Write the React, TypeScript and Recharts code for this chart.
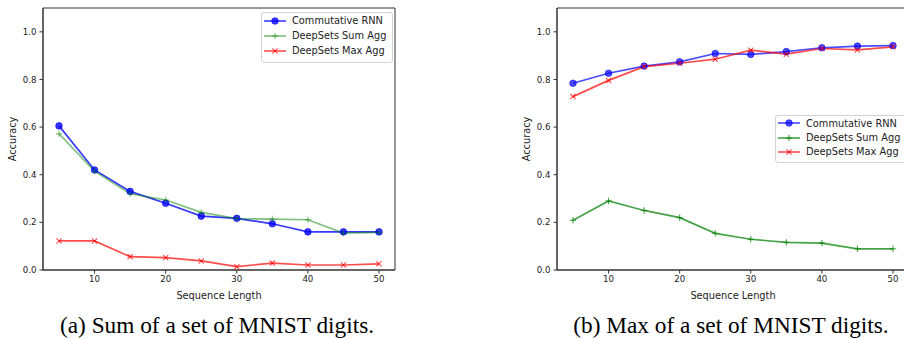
import React from 'react';
import { LineChart, Line, XAxis, YAxis, ReferenceArea, Legend } from 'recharts';

const seqLengths = [5, 10, 15, 20, 25, 30, 35, 40, 45, 50];
const sumCommRnn = [0.605, 0.42, 0.33, 0.28, 0.226, 0.217, 0.194, 0.16, 0.16, 0.16];
const sumDeepSetsSum = [0.572, 0.415, 0.32, 0.294, 0.242, 0.216, 0.214, 0.211, 0.155, 0.158];
const sumDeepSetsMax = [0.122, 0.122, 0.056, 0.052, 0.038, 0.014, 0.029, 0.021, 0.021, 0.026];
const maxCommRnn = [0.784, 0.826, 0.856, 0.874, 0.909, 0.905, 0.917, 0.933, 0.94, 0.942];
const maxDeepSetsSum = [0.209, 0.29, 0.25, 0.22, 0.154, 0.129, 0.116, 0.113, 0.089, 0.089];
const maxDeepSetsMax = [0.728, 0.796, 0.854, 0.868, 0.885, 0.923, 0.906, 0.93, 0.924, 0.937];
const yTicks = [0, 0.2, 0.4, 0.6, 0.8, 1.0];
const xTicks = [10, 20, 30, 40, 50];
const seriesNames = ['Commutative RNN', 'DeepSets Sum Agg', 'DeepSets Max Agg'];
const captions = ['(a) Sum of a set of MNIST digits.', '(b) Max of a set of MNIST digits.'];
const xLabel = 'Sequence Length';
const yLabel = 'Accuracy';

const sumData = seqLengths.map((x, i) => ({ x, rnn: sumCommRnn[i], dsSum: sumDeepSetsSum[i], dsMax: sumDeepSetsMax[i] }));
const maxData = seqLengths.map((x, i) => ({ x, rnn: maxCommRnn[i], dsSum: maxDeepSetsSum[i], dsMax: maxDeepSetsMax[i] }));

const FONT = 'DejaVu Sans, sans-serif';
const AXIS = '#333';

type Kind = 'o' | '+' | 'x';

function Marker({ kind, cx, cy, color, opacity }: { kind: Kind; cx: number; cy: number; color: string; opacity: number }) {
  if (cx == null || cy == null || isNaN(cx) || isNaN(cy)) return null;
  if (kind === 'o') {
    return <circle cx={cx} cy={cy} r={3.3} fill={color} fillOpacity={opacity} stroke={color} strokeOpacity={opacity} strokeWidth={0.8} />;
  }
  if (kind === '+') {
    return (
      <g stroke={color} strokeOpacity={opacity} strokeWidth={1.1}>
        <line x1={cx - 3.2} y1={cy} x2={cx + 3.2} y2={cy} />
        <line x1={cx} y1={cy - 3.2} x2={cx} y2={cy + 3.2} />
      </g>
    );
  }
  return (
    <g stroke={color} strokeOpacity={opacity} strokeWidth={1.1}>
      <line x1={cx - 2.6} y1={cy - 2.6} x2={cx + 2.6} y2={cy + 2.6} />
      <line x1={cx - 2.6} y1={cy + 2.6} x2={cx + 2.6} y2={cy - 2.6} />
    </g>
  );
}

type SeriesDef = { key: string; name: string; color: string; opacity: number; kind: Kind };

function LegendBox({ series, rowH }: { series: SeriesDef[]; rowH: number }) {
  return (
    <div
      style={{
        border: '1px solid #d3d3d3',
        borderRadius: 3,
        background: 'rgba(255,255,255,0.85)',
        padding: '0px 6px 3px 2px',
        fontFamily: FONT,
        fontSize: 9.8,
        color: '#222',
        whiteSpace: 'nowrap',
      }}
    >
      {series.map((s) => (
        <div key={s.key} style={{ display: 'flex', alignItems: 'center', height: rowH }}>
          <svg width={22} height={10} style={{ display: 'block' }}>
            <line x1={0} y1={5} x2={22} y2={5} stroke={s.color} strokeOpacity={s.opacity} strokeWidth={1.6} />
            <Marker kind={s.kind} cx={11} cy={5} color={s.color} opacity={s.opacity} />
          </svg>
          <span style={{ marginLeft: 6 }}>{s.name}</span>
        </div>
      ))}
    </div>
  );
}

function Panel({ data, series, legendLeft, legendTop, rowH }: { data: any[]; series: SeriesDef[]; legendLeft: number; legendTop: number; rowH: number }) {
  return (
    <LineChart width={398} height={310} data={data} margin={{ top: 8, right: 3, left: 0, bottom: 10 }}>
      <XAxis
        dataKey="x"
        type="number"
        domain={[2.75, 52.25]}
        ticks={xTicks}
        allowDataOverflow
        stroke={AXIS}
        tickSize={3.5}
        tickMargin={2}
        height={30}
        tick={{ fontSize: 8.6, fill: '#222', fontFamily: FONT }}
        label={{
          content: (p: any) => {
            const vb = p.viewBox;
            return (
              <text x={vb.x + vb.width / 2} y={vb.y + 29} textAnchor="middle" fontSize={9.8} fontFamily={FONT} fill="#222">
                {xLabel}
              </text>
            );
          },
        }}
      />
      <YAxis
        type="number"
        domain={[0, 1.1]}
        ticks={yTicks}
        allowDataOverflow
        width={43}
        stroke={AXIS}
        tickSize={3.5}
        tickMargin={3}
        tickFormatter={(v: number) => v.toFixed(1)}
        tick={{ fontSize: 8.6, fill: '#222', fontFamily: FONT }}
        label={{
          content: (p: any) => {
            const vb = p.viewBox;
            const x = vb.x + 12;
            const y = vb.y + vb.height / 2;
            return (
              <text x={x} y={y} transform={`rotate(-90, ${x}, ${y})`} textAnchor="middle" dominantBaseline="central" fontSize={9.8} fontFamily={FONT} fill="#222">
                {yLabel}
              </text>
            );
          },
        }}
      />
      <ReferenceArea x1={2.75} x2={52.25} y1={0} y2={1.1} fill="none" stroke={AXIS} strokeWidth={1} ifOverflow="visible" />
      {series.map((s) => (
        <Line
          key={s.key}
          type="linear"
          dataKey={s.key}
          name={s.name}
          stroke={s.color}
          strokeOpacity={s.opacity}
          strokeWidth={1.7}
          isAnimationActive={false}
          activeDot={false}
          legendType="none"
          dot={(p: any) => <Marker key={`${s.key}-${p.index}`} kind={s.kind} cx={p.cx} cy={p.cy} color={s.color} opacity={s.opacity} />}
        />
      ))}
      <Legend
        layout="horizontal"
        align="center"
        verticalAlign="middle"
        wrapperStyle={{ left: legendLeft, top: legendTop, width: 'auto', height: 'auto' }}
        content={() => <LegendBox series={series} rowH={rowH} />}
      />
    </LineChart>
  );
}

const sumSeries: SeriesDef[] = [
  { key: 'rnn', name: seriesNames[0], color: '#0000ff', opacity: 0.78, kind: 'o' },
  { key: 'dsSum', name: seriesNames[1], color: '#008000', opacity: 0.5, kind: '+' },
  { key: 'dsMax', name: seriesNames[2], color: '#ff0000', opacity: 0.7, kind: 'x' },
];
const maxSeries: SeriesDef[] = [
  { key: 'rnn', name: seriesNames[0], color: '#0000ff', opacity: 0.7, kind: 'o' },
  { key: 'dsSum', name: seriesNames[1], color: '#008000', opacity: 0.72, kind: '+' },
  { key: 'dsMax', name: seriesNames[2], color: '#ff0000', opacity: 0.7, kind: 'x' },
];

export default function App() {
  return (
    <div style={{ position: 'absolute', left: 0, top: 0, width: 904, height: 339, overflow: 'hidden', background: '#fff' }}>
      <svg width={904} height={339} style={{ position: 'absolute', left: 0, top: 0 }}>
        <text x={217} y={333} textAnchor="middle" fontFamily="Liberation Serif, Times New Roman, serif" fontSize={23.3} fill="#000">
          {captions[0]}
        </text>
        <text x={731} y={333} textAnchor="middle" fontFamily="Liberation Serif, Times New Roman, serif" fontSize={23.3} fill="#000">
          {captions[1]}
        </text>
      </svg>
      <div style={{ position: 'absolute', left: 0, top: 0 }}>
        <Panel data={sumData} series={sumSeries} legendLeft={261} legendTop={12} rowH={15.2} />
      </div>
      <div style={{ position: 'absolute', left: 514, top: 0 }}>
        <Panel data={maxData} series={maxSeries} legendLeft={261} legendTop={115} rowH={14.4} />
      </div>
    </div>
  );
}
